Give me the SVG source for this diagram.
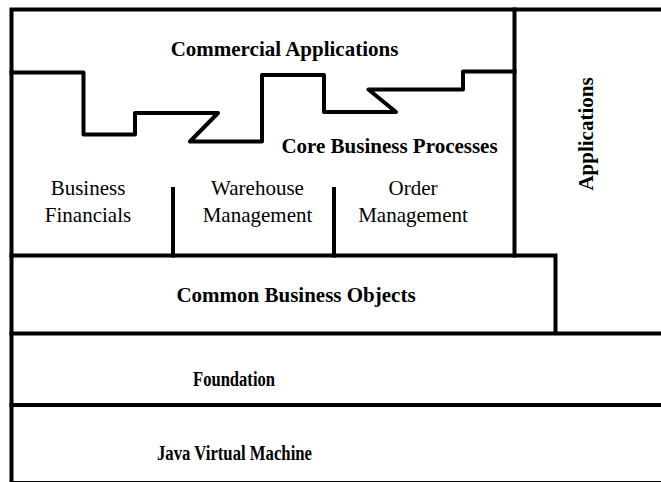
<svg xmlns="http://www.w3.org/2000/svg" width="661" height="482" viewBox="0 0 661 482">
  <style>
    .edge { fill: none; stroke: #000; stroke-width: 4; stroke-linecap: square; }
    .zig { fill: none; stroke: #000; stroke-width: 4; stroke-linejoin: round; stroke-linecap: square; }
    .t { font-family: "Liberation Serif", "Times New Roman", serif; font-size: 21px; fill: #000; text-anchor: middle; }
    .b { font-weight: bold; }
  </style>
  <rect x="0" y="0" width="661" height="482" fill="#fff"/>

  <!-- boundaries between the layers -->
  <g id="connectors">
    <!-- outer frame: left side, top, bottom -->
    <path class="edge" d="M11.5 482 V9.5 H661"/>
    <path class="edge" d="M11.5 483 H661"/>
    <!-- applications column divider -->
    <path class="edge" d="M514.5 9.5 V255.5"/>
    <!-- stepped border between commercial applications and core processes -->
    <polyline class="zig" points="11.5,72.5 83.5,72.5 83.5,134.5 135,134.5 135,113 218,113 190,141.5 262,141.5 262,75 324,75 324,112 396,112 368.5,89.5 463,89.5 463,71.5 514.5,71.5"/>
    <!-- core process partitions -->
    <path class="edge" d="M173 189 V255.5"/>
    <path class="edge" d="M334 189 V255.5"/>
    <!-- common business objects outline -->
    <path class="edge" d="M11.5 255.5 H555.5 V333"/>
    <!-- foundation and JVM layers -->
    <path class="edge" d="M11.5 333.5 H661"/>
    <path class="edge" d="M11.5 405 H661"/>
  </g>

  <g id="commercial-applications">
    <text class="t b" x="284.5" y="56">Commercial Applications</text>
  </g>

  <g id="core-business-processes">
    <text class="t b" x="389.5" y="153">Core Business Processes</text>
  </g>

  <g id="business-financials">
    <text class="t" x="88" y="195">Business</text>
    <text class="t" x="88" y="221.5">Financials</text>
  </g>

  <g id="warehouse-management">
    <text class="t" x="257.5" y="195">Warehouse</text>
    <text class="t" x="257.5" y="221.5">Management</text>
  </g>

  <g id="order-management">
    <text class="t" x="413" y="195">Order</text>
    <text class="t" x="413" y="221.5">Management</text>
  </g>

  <g id="applications">
    <text class="t b" transform="translate(593 134) rotate(-90)">Applications</text>
  </g>

  <g id="common-business-objects">
    <text class="t b" x="296" y="302">Common Business Objects</text>
  </g>

  <g id="foundation">
    <text class="t b" x="234" y="386" style="font-size:20px" textLength="82" lengthAdjust="spacingAndGlyphs">Foundation</text>
  </g>

  <g id="java-virtual-machine">
    <text class="t b" x="234.5" y="460" style="font-size:20px" textLength="155" lengthAdjust="spacingAndGlyphs">Java Virtual Machine</text>
  </g>
</svg>
